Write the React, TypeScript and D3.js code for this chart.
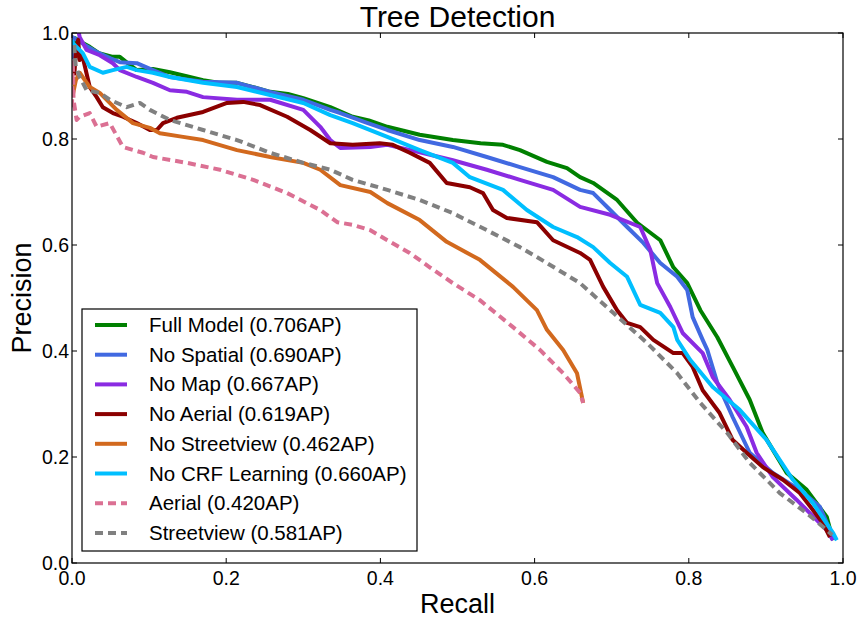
import React from "react";
import * as d3 from "d3";

const W = 861;
const H = 619;
const M = { left: 72, right: 18, top: 33, bottom: 56 };

const title = "Tree Detection";
const xLabel = "Recall";
const yLabel = "Precision";
const xTicks = [0, 0.2, 0.4, 0.6, 0.8, 1.0];
const yTicks = [0, 0.2, 0.4, 0.6, 0.8, 1.0];

const seriesNames = [
  "Full Model (0.706AP)",
  "No Spatial (0.690AP)",
  "No Map (0.667AP)",
  "No Aerial (0.619AP)",
  "No Streetview (0.462AP)",
  "No CRF Learning (0.660AP)",
  "Aerial (0.420AP)",
  "Streetview (0.581AP)",
];
const seriesColors = ["#008000", "#4169E1", "#8A2BE2", "#8B0000", "#D2691E", "#00BFFF", "#DB7093", "#808080"];
const seriesDashed = [false, false, false, false, false, false, true, true];

type P = [number, number];

const fullModel: P[] = [
  [0.0, 0.96], [0.004, 0.99], [0.014, 0.981], [0.023, 0.974], [0.035, 0.962], [0.053, 0.955], [0.062, 0.955],
  [0.075, 0.94], [0.084, 0.93], [0.105, 0.932], [0.127, 0.926], [0.15, 0.918], [0.17, 0.911], [0.19, 0.906], [0.214, 0.906],
  [0.235, 0.898], [0.257, 0.889], [0.28, 0.885], [0.3, 0.877], [0.335, 0.86], [0.364, 0.842], [0.385, 0.835],
  [0.409, 0.823], [0.451, 0.808], [0.494, 0.798], [0.53, 0.792], [0.559, 0.789], [0.581, 0.779], [0.616, 0.757],
  [0.642, 0.745], [0.659, 0.728], [0.676, 0.717], [0.707, 0.685], [0.733, 0.642], [0.763, 0.609],
  [0.78, 0.558], [0.798, 0.528], [0.815, 0.477], [0.837, 0.426], [0.857, 0.37], [0.879, 0.308],
  [0.896, 0.245], [0.927, 0.17], [0.953, 0.138], [0.979, 0.087], [0.987, 0.043],
];

const noSpatial: P[] = [
  [0.0, 0.95], [0.001, 0.992], [0.017, 0.977], [0.035, 0.962], [0.05, 0.952], [0.062, 0.945], [0.084, 0.943],
  [0.105, 0.93], [0.127, 0.917], [0.15, 0.912], [0.17, 0.908], [0.214, 0.906], [0.257, 0.889], [0.3, 0.874],
  [0.335, 0.855], [0.348, 0.849], [0.38, 0.832], [0.409, 0.817], [0.451, 0.798], [0.494, 0.785],
  [0.538, 0.766], [0.581, 0.747], [0.624, 0.728], [0.659, 0.704], [0.676, 0.698], [0.698, 0.666],
  [0.72, 0.634], [0.741, 0.604], [0.763, 0.566], [0.785, 0.54], [0.798, 0.515], [0.805, 0.464],
  [0.818, 0.421], [0.824, 0.402], [0.837, 0.34], [0.857, 0.275], [0.879, 0.208], [0.909, 0.17],
  [0.944, 0.138], [0.97, 0.106], [0.983, 0.062], [0.987, 0.043],
];

const noMap: P[] = [
  [0.006, 1.02], [0.01, 0.992], [0.019, 0.968], [0.036, 0.958], [0.053, 0.943], [0.062, 0.93], [0.084, 0.917],
  [0.105, 0.906], [0.127, 0.892], [0.149, 0.889], [0.17, 0.879], [0.214, 0.874], [0.257, 0.874],
  [0.3, 0.855], [0.322, 0.823], [0.335, 0.798], [0.348, 0.783], [0.387, 0.785], [0.409, 0.789],
  [0.451, 0.775], [0.494, 0.76], [0.538, 0.742], [0.581, 0.723], [0.624, 0.704], [0.659, 0.672],
  [0.698, 0.657], [0.737, 0.634], [0.75, 0.591], [0.759, 0.528], [0.776, 0.483], [0.792, 0.434],
  [0.818, 0.396], [0.831, 0.351], [0.853, 0.308], [0.875, 0.257], [0.888, 0.208], [0.909, 0.162],
  [0.94, 0.119], [0.966, 0.081], [0.979, 0.062], [0.987, 0.043],
];

const noAerial: P[] = [
  [0.003, 0.92], [0.005, 0.966], [0.008, 0.987], [0.01, 0.949], [0.013, 0.96], [0.023, 0.898], [0.032, 0.879],
  [0.04, 0.86], [0.053, 0.849], [0.066, 0.842], [0.084, 0.83], [0.101, 0.817], [0.11, 0.817],
  [0.118, 0.83], [0.136, 0.84], [0.17, 0.851], [0.201, 0.868], [0.222, 0.87], [0.244, 0.864],
  [0.279, 0.842], [0.309, 0.817], [0.335, 0.792], [0.364, 0.789], [0.399, 0.792], [0.416, 0.789],
  [0.438, 0.774], [0.464, 0.755], [0.486, 0.717], [0.516, 0.709], [0.533, 0.698], [0.546, 0.666],
  [0.564, 0.651], [0.603, 0.643], [0.624, 0.609], [0.659, 0.585], [0.672, 0.572], [0.689, 0.521],
  [0.707, 0.477], [0.72, 0.453], [0.737, 0.445], [0.754, 0.421], [0.78, 0.396], [0.792, 0.396],
  [0.805, 0.37], [0.818, 0.326], [0.84, 0.283], [0.857, 0.232], [0.875, 0.208], [0.896, 0.181],
  [0.922, 0.157], [0.944, 0.132], [0.961, 0.1], [0.974, 0.075], [0.983, 0.049],
];

const noStreetview: P[] = [
  [0.001, 0.883], [0.005, 0.911], [0.01, 0.925], [0.023, 0.898], [0.036, 0.887], [0.058, 0.855],
  [0.079, 0.83], [0.101, 0.821], [0.114, 0.811], [0.144, 0.804], [0.17, 0.798], [0.214, 0.779],
  [0.257, 0.766], [0.3, 0.755], [0.322, 0.742], [0.348, 0.713], [0.387, 0.7], [0.409, 0.679],
  [0.451, 0.647], [0.486, 0.606], [0.529, 0.572], [0.572, 0.521], [0.603, 0.477], [0.616, 0.44],
  [0.637, 0.402], [0.655, 0.358], [0.663, 0.302],
];

const noCrf: P[] = [
  [0.0, 0.987], [0.001, 0.981], [0.014, 0.962], [0.023, 0.936], [0.04, 0.925], [0.053, 0.93],
  [0.071, 0.936], [0.084, 0.93], [0.105, 0.925], [0.127, 0.917], [0.17, 0.906], [0.214, 0.898],
  [0.257, 0.883], [0.3, 0.868], [0.335, 0.845], [0.364, 0.83], [0.409, 0.804], [0.451, 0.779],
  [0.494, 0.755], [0.516, 0.728], [0.559, 0.704], [0.59, 0.666], [0.624, 0.634], [0.655, 0.615],
  [0.676, 0.596], [0.698, 0.566], [0.72, 0.54], [0.737, 0.487], [0.763, 0.472], [0.78, 0.445],
  [0.785, 0.421], [0.802, 0.383], [0.831, 0.332], [0.866, 0.289], [0.901, 0.232], [0.935, 0.157],
  [0.961, 0.113], [0.987, 0.057], [0.992, 0.043],
];

const aerial: P[] = [
  [0.0, 0.86], [0.001, 0.95], [0.002, 0.874], [0.006, 0.836], [0.01, 0.842], [0.023, 0.849],
  [0.032, 0.823], [0.049, 0.83], [0.066, 0.785], [0.092, 0.774], [0.105, 0.766], [0.149, 0.755],
  [0.192, 0.742], [0.235, 0.723], [0.279, 0.698], [0.322, 0.666], [0.344, 0.643], [0.364, 0.638],
  [0.387, 0.628], [0.409, 0.609], [0.438, 0.585], [0.464, 0.558], [0.494, 0.528], [0.529, 0.496],
  [0.572, 0.445], [0.607, 0.402], [0.637, 0.358], [0.659, 0.321], [0.663, 0.302],
];

const streetview: P[] = [
  [0.003, 0.977], [0.004, 0.949], [0.005, 0.936], [0.01, 0.917], [0.019, 0.892], [0.036, 0.887],
  [0.049, 0.874], [0.071, 0.86], [0.088, 0.868], [0.101, 0.855], [0.127, 0.836], [0.17, 0.817],
  [0.214, 0.798], [0.257, 0.774], [0.3, 0.755], [0.335, 0.742], [0.364, 0.723], [0.409, 0.704],
  [0.451, 0.685], [0.494, 0.66], [0.538, 0.628], [0.581, 0.596], [0.616, 0.566], [0.659, 0.528],
  [0.702, 0.472], [0.746, 0.415], [0.785, 0.358], [0.815, 0.302], [0.85, 0.245], [0.879, 0.189],
  [0.918, 0.132], [0.953, 0.094], [0.979, 0.062], [0.986, 0.053],
];

const seriesData = [fullModel, noSpatial, noMap, noAerial, noStreetview, noCrf, aerial, streetview];

const FONT = "'Liberation Sans', Arial, sans-serif";

export default function App() {
  const x = d3.scaleLinear().domain([0, 1]).range([M.left, W - M.right]);
  const y = d3.scaleLinear().domain([0, 1]).range([H - M.bottom, M.top]);
  const line = d3.line<P>().x((d) => x(d[0])).y((d) => y(d[1]));
  const x0 = x(0), x1 = x(1), y0 = y(0), y1 = y(1);
  const tickLen = 5;

  const lgX = 82, lgY = 309, lgW = 335, lgH = 242;
  const rowH = 29.7;

  return (
    <svg width={W} height={H} style={{ position: "absolute", left: 0, top: 0, background: "#fff" }} fontFamily={FONT}>
      <defs>
        <clipPath id="plotclip">
          <rect x={x0} y={y1} width={x1 - x0} height={y0 - y1} />
        </clipPath>
      </defs>
      <rect x={0} y={0} width={W} height={H} fill="#fff" />
      <g clipPath="url(#plotclip)">
        {seriesData.map((data, i) => (
          <path
            key={i}
            d={line(data) || ""}
            fill="none"
            stroke={seriesColors[i]}
            strokeWidth={4}
            strokeLinejoin="round"
            strokeDasharray={seriesDashed[i] ? "8,5" : undefined}
          />
        ))}
      </g>
      {/* ticks */}
      {xTicks.map((t, i) => (
        <g key={"xt" + i}>
          <line x1={x(t)} x2={x(t)} y1={y0} y2={y0 - tickLen} stroke="#000" />
          <line x1={x(t)} x2={x(t)} y1={y1} y2={y1 + tickLen} stroke="#000" />
          <text x={x(t)} y={y0 + 22} fontSize={19.5} textAnchor="middle" fill="#000">
            {t.toFixed(1)}
          </text>
        </g>
      ))}
      {yTicks.map((t, i) => (
        <g key={"yt" + i}>
          <line x1={x0} x2={x0 + tickLen} y1={y(t)} y2={y(t)} stroke="#000" />
          <line x1={x1} x2={x1 - tickLen} y1={y(t)} y2={y(t)} stroke="#000" />
          <text x={x0 - 3} y={y(t) + 7} fontSize={19.5} textAnchor="end" fill="#000">
            {t.toFixed(1)}
          </text>
        </g>
      ))}
      <rect x={x0} y={y1} width={x1 - x0} height={y0 - y1} fill="none" stroke="#000" strokeWidth={1.2} />
      {/* legend */}
      <rect x={lgX} y={lgY} width={lgW} height={lgH} fill="#fff" stroke="#000" strokeWidth={1.2} />
      {seriesNames.map((name, i) => {
        const cy = lgY + 16 + i * rowH;
        return (
          <g key={"lg" + i}>
            <line
              x1={95}
              x2={127}
              y1={cy}
              y2={cy}
              stroke={seriesColors[i]}
              strokeWidth={4}
              strokeDasharray={seriesDashed[i] ? "8,5" : undefined}
            />
            <text x={149} y={cy + 7} fontSize={20.5} fill="#000">
              {name}
            </text>
          </g>
        );
      })}
      <text x={(x0 + x1) / 2} y={27} fontSize={30} textAnchor="middle" fill="#000">
        {title}
      </text>
      <text x={(x0 + x1) / 2} y={613} fontSize={27} textAnchor="middle" fill="#000">
        {xLabel}
      </text>
      <text transform={`translate(31, ${(y0 + y1) / 2}) rotate(-90)`} fontSize={27} textAnchor="middle" fill="#000">
        {yLabel}
      </text>
    </svg>
  );
}
